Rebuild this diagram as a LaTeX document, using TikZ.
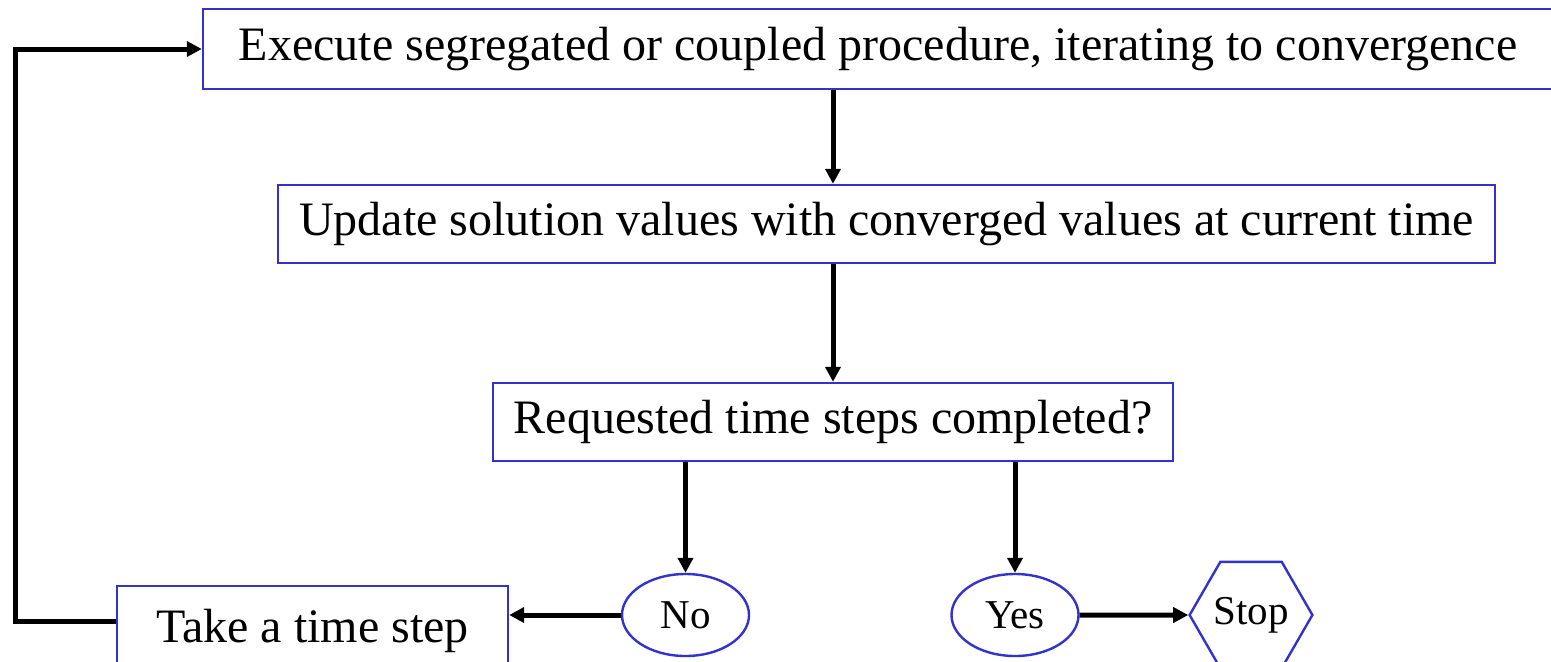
\documentclass[tikz,border=0pt]{standalone}
\usepackage{fontspec}
\setmainfont{Liberation Serif}
\usetikzlibrary{arrows.meta,shapes.geometric}
\definecolor{frameblue}{RGB}{51,51,204}
\begin{document}
\begin{tikzpicture}[x=0.75pt,y=-0.75pt,
  procbox/.style={draw=frameblue,line width=1.8pt,inner sep=0pt,
    font=\fontsize{36}{40}\selectfont},
  answer/.style={ellipse,draw=frameblue,line width=1.8pt,inner sep=0pt,
    minimum width=95.25pt,minimum height=61.5pt,
    font=\fontsize{30.75}{34}\selectfont},
  endnode/.style={regular polygon,regular polygon sides=6,draw=frameblue,
    line width=1.8pt,inner sep=0pt,minimum size=91.5pt,
    font=\fontsize{30.75}{34}\selectfont},
  flow/.style={line width=3.75pt,
    -{Triangle[length=11.25pt,width=11.25pt]}}]
\useasboundingbox (0,0) rectangle (1551,661);

% process boxes
\node[procbox,minimum width=1012.5pt,minimum height=60pt] (exec) at (878,49)
  {Execute segregated or coupled procedure, iterating to convergence};
\node[procbox,minimum width=912.75pt,minimum height=58.5pt] (update) at (886.5,224)
  {Update solution values with converged values at current time};
\node[procbox,minimum width=510pt,minimum height=58.5pt] (check) at (833,422)
  {Requested time steps completed?};
\node[procbox,minimum width=293.25pt,minimum height=67.5pt] (step) at (312.5,631)
  {Take a time step};

% decision outcomes and end
\node[answer] (no) at (685.5,615) {No};
\node[answer] (yes) at (1015,615) {Yes};
\node[endnode] (stop) at (1251,615) {Stop};

% connectors
\draw[flow] (check.north |- exec.south) -- (check.north |- update.north);
\draw[flow] (check.north |- update.south) -- (check.north);
\draw[flow] (no.north |- check.south) -- (no.north);
\draw[flow] (yes.north |- check.south) -- (yes.north);
\draw[flow] (no.west) -- (no.west -| step.east);
\draw[flow] (yes.east) -- (stop.west);
\draw[flow] ([yshift=7.5pt]step.west) -- ++(-100,0) |- (exec.west);
\end{tikzpicture}
\end{document}
